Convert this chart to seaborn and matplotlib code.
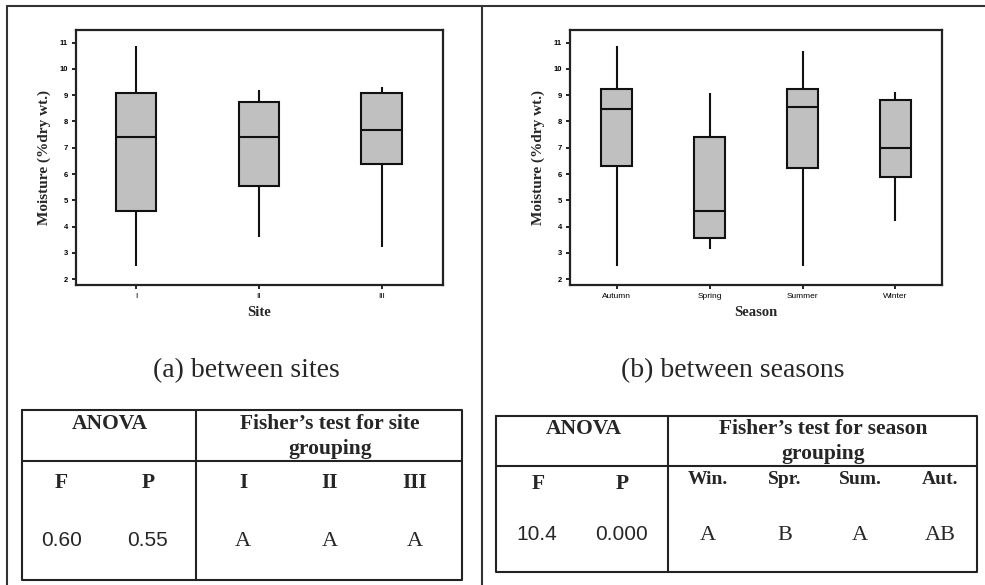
import seaborn as sns
import matplotlib.pyplot as plt
import pandas as pd

# five-number summaries (min, Q1, median, Q3, max)
site_order = ["I", "II", "III"]
site_I = [2.51, 4.59, 7.41, 9.10, 10.89]
site_II = [3.60, 5.54, 7.41, 8.76, 9.20]
site_III = [3.21, 6.38, 7.67, 9.10, 9.33]

season_order = ["Autumn", "Spring", "Summer", "Winter"]
autumn = [2.51, 6.30, 8.48, 9.24, 10.89]
spring = [3.14, 3.56, 4.59, 7.41, 9.10]
summer = [2.51, 6.22, 8.54, 9.24, 10.68]
winter = [4.23, 5.88, 6.99, 8.83, 9.11]

y_ticks = [2, 3, 4, 5, 6, 7, 8, 9, 10, 11]

# table contents
site_anova = ["0.60", "0.55"]
site_groups = ["I", "II", "III"]
site_letters = ["A", "A", "A"]
season_anova = ["10.4", "0.000"]
season_groups = ["Win.", "Spr.", "Sum.", "Aut."]
season_letters = ["A", "B", "A", "AB"]

df_site = pd.DataFrame({
    "Site": ["I"] * 5 + ["II"] * 5 + ["III"] * 5,
    "Moisture": site_I + site_II + site_III,
})
df_season = pd.DataFrame({
    "Season": ["Autumn"] * 5 + ["Spring"] * 5 + ["Summer"] * 5 + ["Winter"] * 5,
    "Moisture": autumn + spring + summer + winter,
})

sns.set_style("white")
plt.rcParams["font.family"] = ["Liberation Serif", "DejaVu Serif"]

W, H = 985, 585
fig = plt.figure(figsize=(W / 100, H / 100), dpi=100)


def px_axes(x0, y0, x1, y1):
    return fig.add_axes([x0 / W, 1 - y1 / H, (x1 - x0) / W, (y1 - y0) / H])


def style_box_axes(ax, xlabel):
    ax.set_ylim(1.78, 11.48)
    ax.set_yticks(y_ticks)
    ax.set_yticklabels([str(t) for t in y_ticks], fontsize=5.5,
                       family="Liberation Sans", fontweight="bold")
    for lab in ax.get_xticklabels():
        lab.set_fontsize(6)
        lab.set_family("Liberation Sans")
    ax.tick_params(axis="both", length=3, width=1.2, direction="out",
                   bottom=True, left=True, pad=3, colors="black")
    for sp in ax.spines.values():
        sp.set_linewidth(1.6)
        sp.set_color("#222222")
    ax.set_xlabel(xlabel, fontsize=10.5, fontweight="bold", labelpad=4)
    ax.set_ylabel("Moisture (%dry wt.)", fontsize=11, fontweight="bold",
                  labelpad=6)


ax1 = px_axes(76, 30, 443, 285)
sns.boxplot(data=df_site, x="Site", y="Moisture", order=site_order,
            color="#c0c0c0", saturation=1, width=0.33, whis=(0, 100),
            showcaps=False, linecolor="#111111", linewidth=1.5, ax=ax1)
ax1.set_xlim(-0.49, 2.5)
style_box_axes(ax1, "Site")

ax2 = px_axes(570, 30, 942, 285)
sns.boxplot(data=df_season, x="Season", y="Moisture", order=season_order,
            color="#c0c0c0", saturation=1, width=0.34, whis=(0, 100),
            showcaps=False, linecolor="#111111", linewidth=1.5, ax=ax2)
ax2.set_xlim(-0.5, 3.5)
style_box_axes(ax2, "Season")

# overlay in pixel coordinates for frame, captions and tables
ov = fig.add_axes([0, 0, 1, 1])
ov.set_xlim(0, W)
ov.set_ylim(H, 0)
ov.axis("off")
ov.patch.set_alpha(0)

lw = 1.5
ov.plot([7, W], [6, 6], color="#333333", lw=lw)
ov.plot([7, 7], [6, H], color="#333333", lw=lw)
ov.plot([482, 482], [6, H], color="#333333", lw=lw)

ov.text(246, 371, "(a) between sites", fontsize=20, ha="center", va="center")
ov.text(733, 371, "(b) between seasons", fontsize=20, ha="center", va="center")


def table_frame(x0, y0, x1, y1, yh, xv):
    ov.plot([x0, x1, x1, x0, x0], [y0, y0, y1, y1, y0], color="#222222", lw=lw)
    ov.plot([x0, x1], [yh, yh], color="#222222", lw=lw)
    ov.plot([xv, xv], [y0, y1], color="#222222", lw=lw)


bold = dict(fontsize=15.5, fontweight="bold", ha="center", va="center")
sans = dict(fontsize=15, family="Liberation Sans", ha="center", va="center")
serif = dict(fontsize=16, ha="center", va="center")

# left table
table_frame(22, 410, 462, 580, 461, 196)
ov.text(110, 424, "ANOVA", **bold)
ov.text(330, 424, "Fisher\u2019s test for site", **bold)
ov.text(330, 449, "grouping", **bold)
for x, lab in zip([61, 148], ["F", "P"]):
    ov.text(x, 483, lab, **bold)
for x, v in zip([62, 148], site_anova):
    ov.text(x, 540, v, **sans)
for x, g, l in zip([243, 330, 415], site_groups, site_letters):
    ov.text(x, 483, g, **bold)
    ov.text(x, 541, l, **serif)

# right table
table_frame(496, 416, 977, 572, 466, 668)
ov.text(584, 429, "ANOVA", **bold)
ov.text(823, 429, "Fisher\u2019s test for season", **bold)
ov.text(823, 454, "grouping", **bold)
for x, lab in zip([538, 622], ["F", "P"]):
    ov.text(x, 484, lab, **bold)
for x, v in zip([537, 622], season_anova):
    ov.text(x, 535, v, **sans)
for x, g, l in zip([708, 785, 860, 940], season_groups, season_letters):
    ov.text(x, 479, g, fontsize=14, fontweight="bold", ha="center", va="center")
    ov.text(x, 536, l, **serif)

fig.savefig("out.png", dpi=100)
